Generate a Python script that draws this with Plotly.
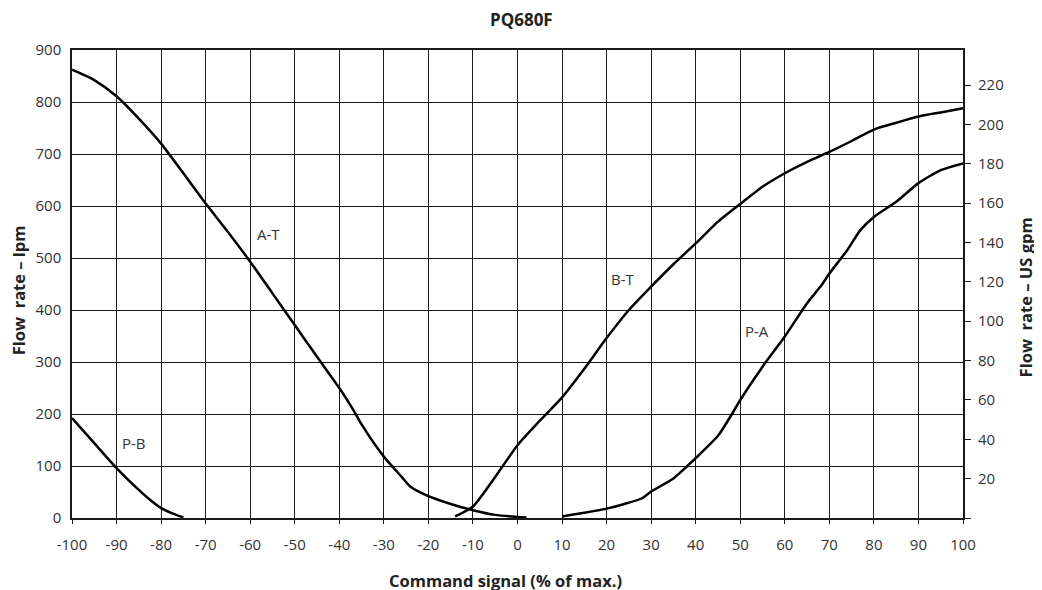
import plotly.graph_objects as go

# ---- data (lpm vs command signal %) ----
at_x = [-100, -95, -90, -85, -80, -75, -70, -65, -60, -55, -50, -45, -40, -37, -35, -30, -26, -24, -20, -15, -10, -5, 0, 2]
at_y = [862, 842, 811, 768, 720, 663, 605, 550, 493, 432, 371, 310, 250, 210, 180, 118, 79, 60, 42, 27, 15, 6, 2, 1]

bt_x = [-14, -10, -5, 0, 5, 10, 15, 20, 25, 30, 35, 40, 45, 50, 55, 60, 65, 70, 75, 80, 85, 90, 95, 100]
bt_y = [3, 22, 79, 140, 187, 232, 287, 346, 400, 445, 488, 528, 570, 604, 637, 663, 685, 704, 725, 747, 760, 772, 780, 788]

pa_x = [10, 15, 20, 24, 28, 30, 35, 38, 40, 45, 48, 50, 55, 60, 65, 68, 70, 74, 77, 80, 85, 90, 95, 100]
pa_y = [3, 10, 18, 27, 38, 51, 76, 99, 115, 158, 198, 227, 291, 349, 413, 445, 470, 515, 554, 579, 608, 644, 669, 682]

pb_x = [-100, -95, -90, -85, -82.5, -80, -77.5, -75]
pb_y = [192, 144, 96, 54, 35, 19, 9, 1]

x_ticks = list(range(-100, 101, 10))
y_ticks = list(range(0, 901, 100))
gpm_ticks = list(range(0, 221, 20))
gpm_labels = [""] + [str(v) for v in gpm_ticks[1:]]
LPM_PER_GPM = 3.785

curve_labels = ["A-T", "B-T", "P-A", "P-B"]
label_x = [-55.9, 23.7, 53.7, -86.1]
label_y = [547, 460, 360, 145]

FONT = "Open Sans"
TXT = "#333333"

fig = go.Figure()
for xs, ys, nm in [(at_x, at_y, "A-T"), (bt_x, bt_y, "B-T"), (pa_x, pa_y, "P-A"), (pb_x, pb_y, "P-B")]:
    fig.add_trace(go.Scatter(x=xs, y=ys, mode="lines", name=nm,
                             line=dict(color="black", width=2.5, shape="spline", smoothing=0.6),
                             showlegend=False, hoverinfo="skip"))
# invisible trace for right axis
fig.add_trace(go.Scatter(x=[-100], y=[0], yaxis="y2", mode="markers",
                         marker=dict(opacity=0), showlegend=False, hoverinfo="skip"))

for t, lx, ly in zip(curve_labels, label_x, label_y):
    fig.add_annotation(x=lx, y=ly, text=t, showarrow=False,
                       xanchor="center", yanchor="middle",
                       font=dict(family=FONT, size=15, color=TXT))

common = dict(xref="paper", yref="paper", showarrow=False, xanchor="center", yanchor="middle")
fig.add_annotation(x=0.504, y=1.065, text="<b>PQ680F</b>",
                   font=dict(family=FONT, size=17, color="#222"), **common)
fig.add_annotation(x=0.487, y=-0.1325, text="<b>Command signal (% of max.)</b>",
                   font=dict(family=FONT, size=16.5, color="#222"), **common)
fig.add_annotation(x=-0.0603, y=0.487, text="<b>Flow  rate – lpm</b>", textangle=-90,
                   font=dict(family=FONT, size=16.5, color="#222"), **common)
fig.add_annotation(x=1.0705, y=0.471, text="<b>Flow  rate – US gpm</b>", textangle=-90,
                   font=dict(family=FONT, size=16.5, color="#222"), **common)

fig.update_layout(
    width=1042, height=590,
    margin=dict(l=64, r=87, t=42, b=80),
    paper_bgcolor="white", plot_bgcolor="white",
    font=dict(family=FONT, size=15, color=TXT),
    xaxis=dict(range=[-100, 100], tickvals=x_ticks, ticktext=[str(v) for v in x_ticks],
               showgrid=True, gridcolor="#1a1a1a", gridwidth=1.3,
               showline=True, linecolor="#1a1a1a", linewidth=1.5, mirror=True,
               ticks="outside", ticklen=4, tickcolor="#1a1a1a", ticklabelstandoff=8,
               zeroline=False, tickfont=dict(family=FONT, size=15, color=TXT)),
    yaxis=dict(range=[0, 900], tickvals=y_ticks,
               showgrid=True, gridcolor="#1a1a1a", gridwidth=1.3,
               showline=True, linecolor="#1a1a1a", linewidth=1.5, mirror=True,
               ticks="", ticklabelstandoff=6,
               zeroline=False, tickfont=dict(family=FONT, size=15, color=TXT)),
    yaxis2=dict(range=[0, 900 / LPM_PER_GPM], overlaying="y", side="right",
                tickvals=gpm_ticks, ticktext=gpm_labels,
                showgrid=False, zeroline=False, showline=False,
                ticks="outside", ticklen=7, tickcolor="#1a1a1a", ticklabelstandoff=4,
                tickfont=dict(family=FONT, size=15, color=TXT)),
)

fig.write_html("out.html")
